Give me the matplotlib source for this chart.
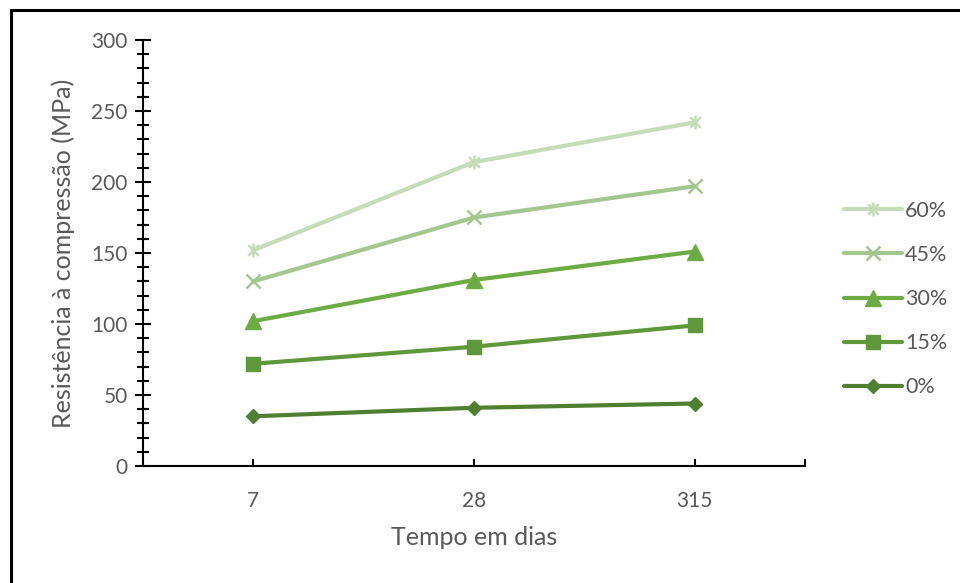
import numpy as np
import matplotlib
matplotlib.use("Agg")
import matplotlib.pyplot as plt
from matplotlib.path import Path
from matplotlib.lines import Line2D
from matplotlib.ticker import MultipleLocator

plt.rcParams['font.family'] = ['Lato', 'DejaVu Sans']

dias = ['7', '28', '315']
series = ['0%', '15%', '30%', '45%', '60%']
r_0 = [35, 41, 44]
r_15 = [72, 84, 99]
r_30 = [102, 131, 151]
r_45 = [130, 175, 197]
r_60 = [152, 214, 242]

cores = ['#4f7f30', '#5f983b', '#6dac45', '#a4c78f', '#c6dcb9']

# asterisk marker: an x crossed by a vertical bar
star = Path([(-1, -1), (1, 1), (-1, 1), (1, -1), (0, -1.3), (0, 1.3)],
            [Path.MOVETO, Path.LINETO, Path.MOVETO, Path.LINETO, Path.MOVETO, Path.LINETO])
marcadores = ['D', 's', '^', 'x', star]
tamanhos = [7.5, 10.5, 11, 10, 10]

fig = plt.figure(figsize=(9.6, 5.83), dpi=100)
ax = fig.add_axes([0.149, 0.2007, 0.6895, 0.7307])

x = np.arange(len(dias))
valores = [r_0, r_15, r_30, r_45, r_60]
handles = []
for nome, v, c, m, s in zip(series, valores, cores, marcadores, tamanhos):
    mew = 1.8 if m in ('x',) or m is star else 1
    ln, = ax.plot(x, v, color=c, lw=3, marker=m, markersize=s,
                  markerfacecolor=c, markeredgecolor=c, markeredgewidth=mew,
                  solid_capstyle='round', label=nome)
    handles.append(ln)

ax.set_xlim(-0.5, 2.5)
ax.set_ylim(0, 300)
ax.set_xticks([0, 1, 2, 2.5])
ax.set_xticklabels(dias + [''])
ax.yaxis.set_major_locator(MultipleLocator(50))
ax.yaxis.set_minor_locator(MultipleLocator(10))

for s in ['top', 'right']:
    ax.spines[s].set_visible(False)
for s in ['left', 'bottom']:
    ax.spines[s].set_linewidth(1.5)
    ax.spines[s].set_color('black')

ax.tick_params(axis='y', which='major', direction='inout', length=12, width=1.5,
               labelsize=15, labelcolor='#595959', pad=5)
ax.tick_params(axis='y', which='minor', direction='inout', length=8, width=1.5)
ax.tick_params(axis='x', which='major', direction='in', length=5, width=1.5,
               labelsize=15, labelcolor='#595959', pad=18)

ax.set_ylabel('Resistência à compressão (MPa)', fontsize=18, color='#595959', labelpad=12)
ax.set_xlabel('Tempo em dias', fontsize=18, color='#595959', labelpad=11)

leg = fig.legend(handles[::-1], series[::-1], loc='center left',
                 bbox_to_anchor=(0.8586, 0.487), frameon=False, fontsize=15.5,
                 handlelength=2.7, handletextpad=0.15, labelspacing=1.12,
                 labelcolor='#595959')

# frame around the chart area
fig.add_artist(Line2D([11 / 960, 1], [1 - 10 / 583, 1 - 10 / 583],
                      transform=fig.transFigure, color='black', lw=2.2))
fig.add_artist(Line2D([11 / 960, 11 / 960], [0, 1 - 10 / 583],
                      transform=fig.transFigure, color='black', lw=2.2))

fig.savefig('out.png', dpi=100)
